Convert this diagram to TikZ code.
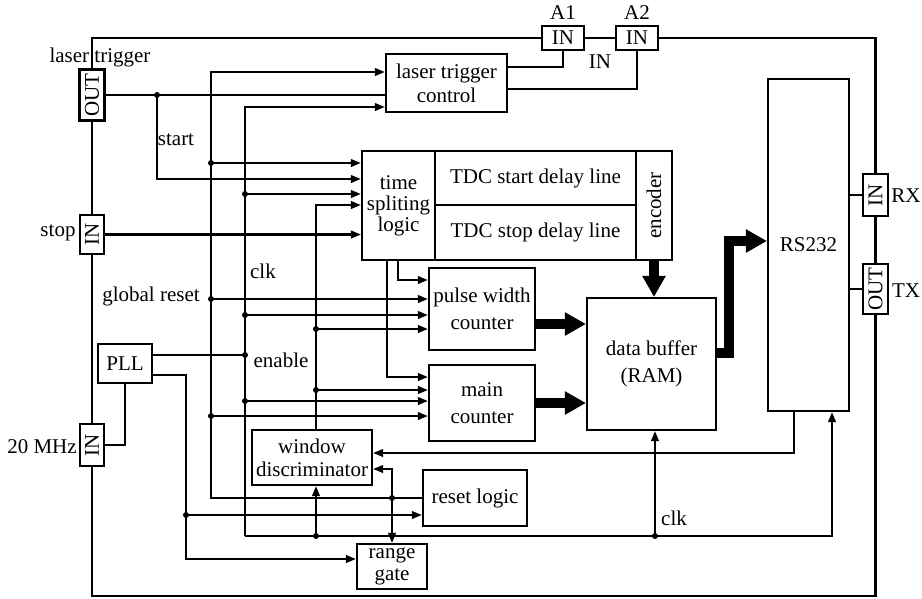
\documentclass[tikz,border=0pt]{standalone}
\usepackage{fontspec}
\usepackage{graphicx}
\setmainfont{Liberation Serif}
\usetikzlibrary{arrows.meta}
\begin{document}
\begin{tikzpicture}[x=1pt,y=-1pt,
  wire/.style={line width=2.1pt},
  arr/.style={wire,-{Triangle[length=10pt,width=7.5pt]}},
  fat/.style={line width=10.5pt,line join=miter,-{Triangle[length=21pt,width=22pt]}},
  blk/.style={draw,line width=2.1pt,inner sep=0pt,align=center,font=\fontsize{21}{24}\selectfont},
  port/.style={blk,fill=white},
  lbl/.style={inner sep=0pt,font=\fontsize{21}{24}\selectfont}
]
\useasboundingbox (0,0) rectangle (922,598);

% ports on the frame
\node[port,minimum width=25pt,minimum height=51pt] (outL) at (92,95) {\rotatebox{90}{OUT}};
\node[port,minimum width=24pt,minimum height=39pt] (inStop) at (92,234.5) {\rotatebox{90}{IN}};
\node[port,minimum width=24pt,minimum height=42pt] (in20) at (92,445) {\rotatebox{90}{IN}};
\node[port,minimum width=42pt,minimum height=24pt] (inA1) at (563,38) {IN};
\node[port,minimum width=42pt,minimum height=24pt] (inA2) at (637,38) {IN};
\node[port,minimum width=25pt,minimum height=42pt] (inRX) at (875.5,195) {\rotatebox{90}{IN}};
\node[port,minimum width=25pt,minimum height=50pt] (outTX) at (875.5,289) {\rotatebox{90}{OUT}};

% frame
\coordinate (fbl) at (92,596);
\coordinate (fbr) at (875.5,596);
\draw[wire] (outL.north) |- (inA1.west);
\draw[wire] (inA1.east) -- (inA2.west);
\draw[wire] (inA2.east) -| (inRX.north);
\draw[wire] (inRX.south) -- (outTX.north);
\draw[wire] (outTX.south) -- (fbr) -- (fbl) -- (in20.south);
\draw[wire] (in20.north) -- (inStop.south);
\draw[wire] (inStop.north) -- (outL.south);

% labels
\node[lbl] (lLT) at (100,57) {laser trigger};
\node[lbl] (lA1) at (563,13) {A1};
\node[lbl] (lA2) at (637,13) {A2};
\node[lbl] (lIN) at (600,62) {IN};
\node[lbl] (lStop) at (58,233) {stop};
\node[lbl] (l20) at (42,447) {20 MHz};
\node[lbl] (lRX) at (906,196) {RX};
\node[lbl] (lTX) at (906,291) {TX};
\node[lbl] (lStart) at (176,140) {start};
\node[lbl] (lClk) at (263,271) {clk};
\node[lbl] (lGR) at (151,296) {global reset};
\node[lbl] (lEn) at (281,360) {enable};
\node[lbl] (lClk2) at (674,518) {clk};

% blocks
\node[blk,minimum width=121pt,minimum height=58pt] (ltc) at (446.5,83) {laser trigger\\control};
\node[blk,minimum width=73pt,minimum height=109pt,font=\fontsize{21}{21}\selectfont] (tsl) at (398.5,205.5) {time\\spliting\\logic};
\node[blk,minimum width=201pt,minimum height=54pt] (tdcA) at (535.5,178) {TDC start delay line};
\node[blk,minimum width=201pt,minimum height=55pt] (tdcB) at (535.5,232.5) {TDC stop delay line};
\node[blk,minimum width=36pt,minimum height=109pt] (enc) at (654,205.5) {\rotatebox{90}{encoder}};
\node[blk,minimum width=106pt,minimum height=82pt,font=\fontsize{21}{27}\selectfont] (pwc) at (482,309) {pulse width\\counter};
\node[blk,minimum width=106pt,minimum height=76pt,font=\fontsize{21}{27}\selectfont] (mc) at (482,403) {main\\counter};
\node[blk,minimum width=129pt,minimum height=132pt,font=\fontsize{21}{27}\selectfont] (db) at (651.5,364) {data buffer\\(RAM)};
\node[blk,minimum width=81pt,minimum height=332pt] (rs) at (808.5,245) {RS232};
\node[blk,minimum width=120pt,minimum height=55pt,font=\fontsize{21}{23}\selectfont] (wd) at (312,457.5) {window\\discriminator};
\node[blk,minimum width=104pt,minimum height=56pt] (rl) at (475,498) {reset logic};
\node[blk,minimum width=70pt,minimum height=45pt,font=\fontsize{21}{22}\selectfont] (rg) at (392,566.5) {range\\gate};
\node[blk,minimum width=54pt,minimum height=39pt] (pll) at (125,363.5) {PLL};

% junction coordinates
\coordinate (jStart) at (157,95);
\coordinate (sBot) at (157,179);
\coordinate (grTop) at (211,72);
\coordinate (gr1) at (211,163);
\coordinate (gr2) at (211,299);
\coordinate (gr3) at (211,416);
\coordinate (grBot) at (211,498);
\coordinate (ckTop) at (245,107);
\coordinate (ck1) at (245,194);
\coordinate (ck2) at (245,315);
\coordinate (ckP) at (245,355);
\coordinate (ck3) at (245,401);
\coordinate (ckBot) at (245,536);
\coordinate (ckWD) at (316,536);
\coordinate (ckDB) at (655,536);
\coordinate (ckR) at (832,536);
\coordinate (enTop) at (316,205);
\coordinate (en1) at (316,329);
\coordinate (en2) at (316,390);
\coordinate (tA) at (398,280);
\coordinate (tB) at (387,377);
\coordinate (pllA) at (186,375);
\coordinate (p1) at (186,515);
\coordinate (pBot) at (186,559);
\coordinate (jRL) at (392,498);
\coordinate (wdIn2) at (392,469);
\coordinate (rsW) at (794,453);
\coordinate (a1j) at (563,67);
\coordinate (a2j) at (637,89);
\coordinate (yPW) at (0,324);
\coordinate (yDB) at (0,353);
\coordinate (yRS) at (0,241);
\coordinate (xBend) at (729,0);

% laser trigger output and start
\draw[wire] (outL.east) -- (outL.east -| ltc.west);
\draw[arr] (jStart) |- (sBot -| tsl.west);
% A1 / A2 inputs
\draw[wire] (a1j -| ltc.east) -- (a1j) -- (inA1.south);
\draw[wire] (a2j -| ltc.east) -- (a2j) -- (inA2.south);
% global reset bus
\draw[arr] (rl.west |- grBot) -- (grBot) |- (grTop -| ltc.west);
\draw[arr] (gr1) -- (gr1 -| tsl.west);
\draw[arr] (gr2) -- (gr2 -| pwc.west);
\draw[arr] (gr3) -- (gr3 -| mc.west);
% clk bus
\draw[arr] (ckBot) |- (ckTop -| ltc.west);
\draw[arr] (ck1) -- (ck1 -| tsl.west);
\draw[arr] (ck2) -- (ck2 -| pwc.west);
\draw[arr] (ck3) -- (ck3 -| mc.west);
\draw[wire] (pll.east |- ckP) -- (ckP);
\draw[arr] (ckBot) -- (ckR) -- (ckR |- rs.south);
\draw[arr] (ckDB) -- (ckDB |- db.south);
\draw[arr] (ckWD) -- (ckWD |- wd.south);
% enable bus
\draw[arr] (wd.north -| enTop) -- (enTop) -- (enTop -| tsl.west);
\draw[arr] (en1) -- (en1 -| pwc.west);
\draw[arr] (en2) -- (en2 -| mc.west);
% stop input
\draw[arr] (inStop.east) -- (inStop.east -| tsl.west);
% time spliting logic outputs
\draw[arr] (tA |- tsl.south) -- (tA) -- (tA -| pwc.west);
\draw[arr] (tB |- tsl.south) -- (tB) -- (tB -| mc.west);
% PLL
\draw[wire] (in20.east) -| (pll.south);
\draw[arr] (pll.east |- pllA) -| (pBot) -- (pBot -| rg.west);
\draw[arr] (p1) -- (p1 -| rl.west);
% reset logic branch
\draw[arr] (jRL) -- (wdIn2) -- (wdIn2 -| wd.east);
\draw[arr] (jRL) -- (jRL |- rg.north);
% RS232 to window discriminator
\draw[arr] (rsW |- rs.south) -- (rsW) -- (rsW -| wd.east);
% RX / TX
\draw[wire] (inRX.west) -- (inRX.west -| rs.east);
\draw[wire] (outTX.west) -- (outTX.west -| rs.east);

% data paths
\draw[fat] (pwc.east |- yPW) -- (db.west |- yPW);
\draw[fat] (mc.east) -- (mc.east -| db.west);
\draw[fat] (enc.south) -- (enc.south |- db.north);
\draw[fat] (db.east |- yDB) -- (xBend |- yDB) -- (xBend |- yRS) -- (rs.west |- yRS);

% junction dots
\foreach \c in {jStart,gr1,gr2,gr3,ck1,ck2,ckP,ck3,en1,en2,ckWD,ckDB,p1,jRL}
  \fill (\c) circle[radius=3pt];
\end{tikzpicture}
\end{document}
